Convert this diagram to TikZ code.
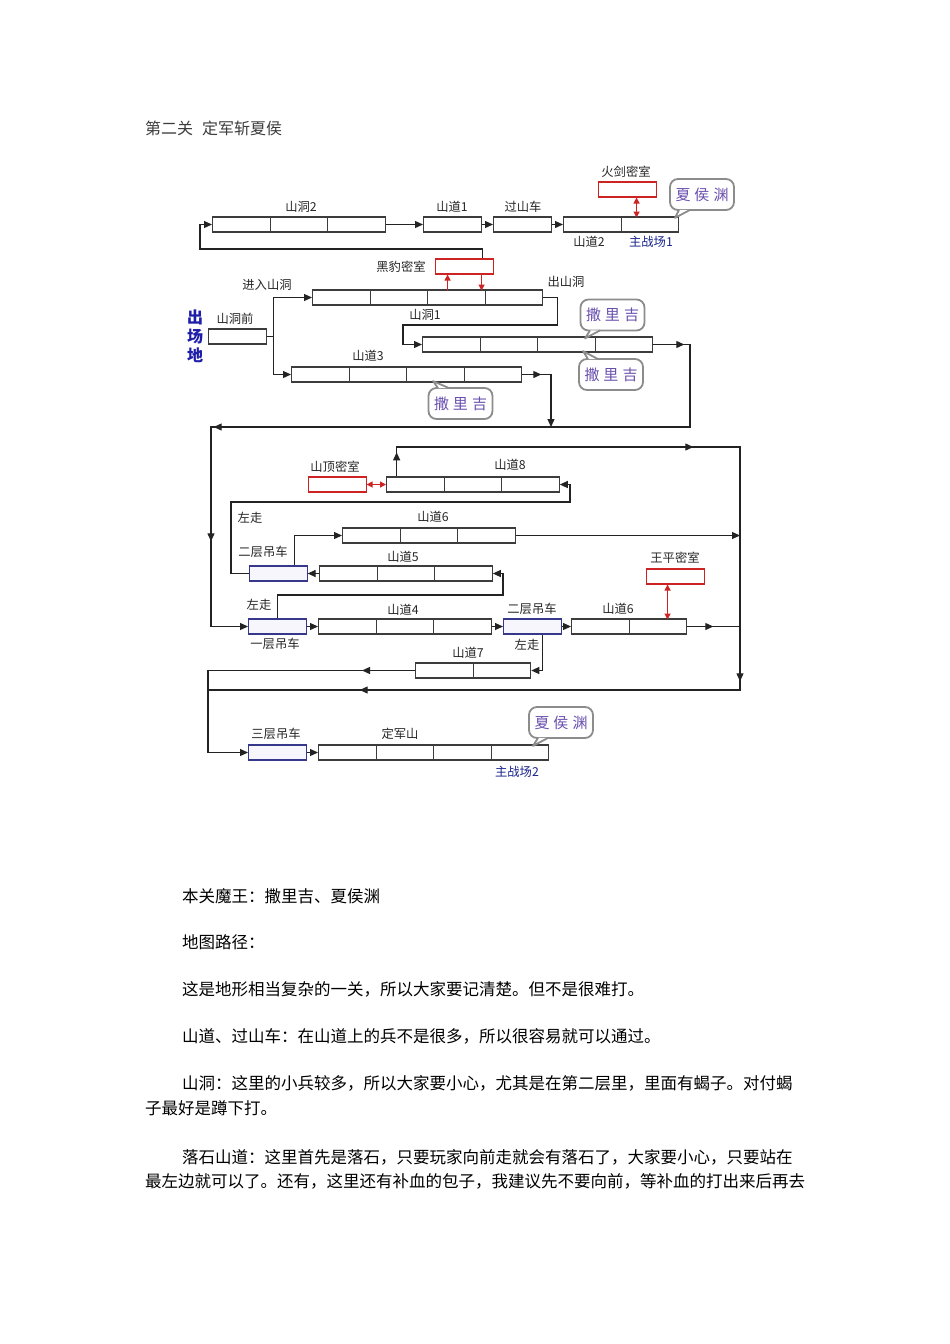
\documentclass[tikz,border=0pt]{standalone}
\usepackage{fontspec}
\setmainfont{Noto Sans CJK SC}
\usetikzlibrary{arrows.meta, positioning, decorations.markings}

\definecolor{cellline}{RGB}{60,60,60}
\definecolor{linkline}{RGB}{35,35,35}
\definecolor{roomred}{RGB}{205,35,35}
\definecolor{liftblue}{RGB}{55,55,140}
\definecolor{liftfill}{RGB}{246,246,252}
\definecolor{bossviolet}{RGB}{105,80,175}
\definecolor{bubgray}{RGB}{140,140,140}
\definecolor{labelnavy}{RGB}{25,35,140}
\definecolor{startblue}{RGB}{30,30,170}
\definecolor{titlegray}{RGB}{60,60,60}

% a row of equal cells, named <name>-1, <name>-2, ...
\newcommand{\track}[4]{%
  \foreach \i in {1,...,#4}
    \node[cell, anchor=west] (#1-\i) at ({#2+(\i-1)*57.5}, #3) {};
}
% tail of a speech bubble: base, tip, base
\newcommand{\bubtail}[3]{%
  \fill[white] #1 -- #2 -- #3 -- cycle;
  \draw[bubline] #1 -- #2 -- #3;
}

\begin{document}
\begin{tikzpicture}[
    x=1pt, y=-1pt,
    cell/.style={draw=cellline, line width=1.3pt, fill=white, minimum width=57.5pt, minimum height=15pt, inner sep=0pt},
    room/.style={cell, draw=roomred, line width=1.1pt},
    lift/.style={cell, draw=liftblue, fill=liftfill, line width=1.1pt},
    tag/.style={font=\fontsize{12.3}{14}\selectfont, text=black!85, inner sep=0pt},
    boss/.style={draw=bubgray, line width=1.8pt, rounded corners=8pt, fill=white, minimum width=64pt, minimum height=31pt, text=bossviolet, font=\fontsize{15}{15}\selectfont},
    bubline/.style={draw=bubgray, line width=1.8pt, line join=round},
    link/.style={draw=linkline, line width=1.2pt},
    arr/.style={link, -{Triangle[length=8pt,width=7pt]}},
    redtip/.style={draw=roomred, line width=1.3pt, -{Triangle[length=6pt,width=6pt]}},
    redboth/.style={draw=roomred, line width=1.3pt, {Triangle[length=6pt,width=6pt]}-{Triangle[length=6pt,width=6pt]}},
    tipat/.style={postaction={decorate, decoration={markings, mark=at position #1 with {\arrow[linkline]{Triangle[length=8pt,width=7pt]}}}}},
    body/.style={font=\fontsize{16.5}{20}\selectfont, anchor=west, inner sep=0pt, text=black}
]
    \fill[white] (0,0) rectangle (950,1344);
    \useasboundingbox (0,0) rectangle (950,1344);

    \node[body, font=\fontsize{16}{18}\selectfont, text=titlegray] (title) at (145,128) {第二关\hspace{0.55em}定军斩夏侯};

    % top row
    \track{sd2}{212}{224.5}{3}
    \node[cell, anchor=west] (sdA) at (423,224.5) {};
    \node[cell, anchor=west] (gsc) at (493,224.5) {};
    \track{sdB}{563}{224.5}{2}
    \node[room, anchor=west] (hj) at (598,189.5) {};
    \node[boss] (xh1) at (702,194.5) {夏\hspace{4pt}侯\hspace{4pt}渊};
    \bubtail{([xshift=-23pt,yshift=1pt]xh1.south)}{([xshift=-27pt,yshift=-7pt]xh1.south)}{([xshift=-12pt,yshift=1pt]xh1.south)}

    \node[tag] (l-sd2) at (301,207) {山洞2};
    \node[tag] (l-sdA) at (452,207) {山道1};
    \node[tag] (l-gsc) at (523,207) {过山车};
    \node[tag] (l-sdB) at (589,242) {山道2};
    \node[tag, text=labelnavy] (l-zz1) at (651,242) {主战场1};
    \node[tag] (l-hj) at (626,172) {火剑密室};

    \draw[arr] (sd2-3.east) -- (sdA.west);
    \draw[arr] (sdA.east) -- (gsc.west);
    \draw[arr] (gsc.east) -- (sdB-1.west);
    \draw[redboth] ([xshift=9.25pt]hj.south) -- ([xshift=9.25pt,yshift=-20pt]hj.south);

    % cave
    \node[room, anchor=west] (hb) at (435,266.5) {};
    \track{jr}{312}{297.5}{4}
    \node[cell, anchor=west] (sdq) at (208,336.5) {};
    \track{sd1}{422}{344.5}{4}
    \track{sd3}{291}{374.5}{4}

    \node[tag] (l-hb) at (401,267) {黑豹密室};
    \node[tag] (l-jr) at (267,285) {进入山洞};
    \node[tag] (l-out) at (566,282) {出山洞};
    \node[tag] (l-sdq) at (235,319) {山洞前};
    \node[tag] (l-sd1) at (425,315) {山洞1};
    \node[tag] (l-sd3) at (368,356) {山道3};
    \node[font=\bfseries\fontsize{16}{19}\selectfont, text=startblue, align=center, inner sep=0pt] (start) at (195,336) {出\\场\\地};

    \draw[arr] ([xshift=18.25pt]hb.north) |- (200,249) |- (sd2-1.west);
    \draw[redtip] ([xshift=-16.75pt,yshift=-16pt]hb.south) -- ([xshift=-16.75pt]hb.south);
    \draw[redtip] ([xshift=17.25pt]hb.south) -- ([xshift=17.25pt,yshift=-16pt]hb.south);
    \draw[arr] (sdq.east) -- ++(6.5,0) |- (jr-1.west);
    \draw[arr] (sdq.east) -- ++(6.5,0) |- (sd3-1.west);
    \draw[arr] (jr-4.east) -- ++(14,0) |- (403,325) |- (sd1-1.west);

    \node[boss] (sl1) at (612.5,315) {撒\hspace{4pt}里\hspace{4pt}吉};
    \bubtail{([xshift=-22.5pt,yshift=1pt]sl1.south)}{([xshift=-27.5pt,yshift=-7pt]sl1.south)}{([xshift=-12.5pt,yshift=1pt]sl1.south)}
    \node[boss] (sl2) at (611,374.5) {撒\hspace{4pt}里\hspace{4pt}吉};
    \bubtail{([xshift=-23pt,yshift=-1pt]sl2.north)}{([xshift=-28pt,yshift=7pt]sl2.north)}{([xshift=-13pt,yshift=-1pt]sl2.north)}
    \node[boss] (sl3) at (460.5,403.5) {撒\hspace{4pt}里\hspace{4pt}吉};
    \bubtail{([xshift=-22.5pt,yshift=-1pt]sl3.north)}{([xshift=-27.5pt,yshift=6pt]sl3.north)}{([xshift=-11.5pt,yshift=-1pt]sl3.north)}

    % mountain road
    \node[room, anchor=west] (sdm) at (308,484.5) {};
    \track{sd8}{386}{484.5}{3}
    \track{sd6u}{342}{535.5}{3}
    \node[lift, anchor=west] (ly2L) at (249,573.5) {};
    \track{sd5}{319}{573.5}{3}
    \node[room, anchor=west] (wp) at (646,576.5) {};
    \node[lift, anchor=west] (ly1) at (248,626.5) {};
    \track{sd4}{318}{626.5}{3}
    \node[lift, anchor=west] (ly2R) at (503,626.5) {};
    \track{sd6l}{571}{626.5}{2}
    \track{sd7}{415}{670.5}{2}

    \node[tag] (l-sdm) at (335,467) {山顶密室};
    \node[tag] (l-sd8) at (510,465) {山道8};
    \node[tag] (l-zz) at (250,518) {左走};
    \node[tag] (l-sd6u) at (433,517) {山道6};
    \node[tag] (l-ly2L) at (263,552) {二层吊车};
    \node[tag] (l-sd5) at (403,557) {山道5};
    \node[tag] (l-wp) at (675,558) {王平密室};
    \node[tag] (l-zz2) at (259,605) {左走};
    \node[tag] (l-sd4) at (403,610) {山道4};
    \node[tag] (l-ly2R) at (532,609) {二层吊车};
    \node[tag] (l-sd6l) at (618,609) {山道6};
    \node[tag] (l-ly1) at (275,644) {一层吊车};
    \node[tag] (l-zz3) at (527,645) {左走};
    \node[tag] (l-sd7) at (468,653) {山道7};

    % Dingjun mountain
    \node[lift, anchor=west] (ly3) at (248,752.5) {};
    \track{djs}{318}{752.5}{4}
    \node[tag] (l-ly3) at (276,734) {三层吊车};
    \node[tag] (l-djs) at (400,734) {定军山};
    \node[tag, text=labelnavy] (l-zz2b) at (517,772) {主战场2};
    \node[boss] (xh2) at (561,722.5) {夏\hspace{4pt}侯\hspace{4pt}渊};
    \bubtail{([xshift=-23pt,yshift=1pt]xh2.south)}{([xshift=-28pt,yshift=-7pt]xh2.south)}{([xshift=-13pt,yshift=1pt]xh2.south)}

    \coordinate (loopr) at (690,427);
    \coordinate (loopl) at (211,427);
    \coordinate (midjoin) at (551,427);
    \coordinate (rtop) at (740,447);
    \coordinate (lbot) at (208,690);

    \draw[arr, tipat=31pt, tipat=595.5pt, tipat=712.5pt] (sd1-4.east) -| (loopr) -- (loopl) |- (ly1.west);
    \draw[arr, tipat=19pt] (sd3-4.east) -| (midjoin);
    \draw[redboth] (sdm.east) -- (sd8-1.west);
    \draw[arr, tipat=24pt, tipat=326pt, tipat=607pt, tipat=996pt] ([xshift=-18.75pt]sd8-1.north) |- (rtop) |- (lbot) |- (ly3.west);
    \draw[arr] (sd6u-3.east) -- (sd6u-3.east -| rtop);
    \draw[arr] ([xshift=16.25pt]ly2L.north) |- (sd6u-1.west);
    \draw[arr] (sd5-1.west) -- (ly2L.east);
    \draw[arr] (ly2L.west) -- ++(-18,0) |- (570,502) |- (sd8-3.east);
    \draw[arr] (ly1.north) |- (503,595) |- (sd5-3.east);
    \draw[arr] (ly1.east) -- (sd4-1.west);
    \draw[arr] (sd4-3.east) -- (ly2R.west);
    \draw[arr] (ly2R.east) -- (sd6l-1.west);
    \draw[redboth] ([xshift=-7.75pt]wp.south) -- ([xshift=-7.75pt,yshift=-35pt]wp.south);
    \draw[link, tipat=26pt] (sd6l-2.east) -- (sd6l-2.east -| rtop);
    \draw[arr] ([xshift=10.25pt]ly2R.south) |- (sd7-2.east);
    \draw[link, tipat=53pt] (sd7-1.west) -| (lbot);
    \draw[arr] (ly3.east) -- (djs-1.west);

    % text below
    \node[body] (t1) at (182,896) {本关魔王：撒里吉、夏侯渊};
    \node[body] (t2) at (182,942) {地图路径：};
    \node[body] (t3) at (182,989) {这是地形相当复杂的一关，所以大家要记清楚。但不是很难打。};
    \node[body] (t4) at (182,1036) {山道、过山车：在山道上的兵不是很多，所以很容易就可以通过。};
    \node[body] (t5) at (182,1083) {山洞：这里的小兵较多，所以大家要小心，尤其是在第二层里，里面有蝎子。对付蝎};
    \node[body] (t6) at (145,1108) {子最好是蹲下打。};
    \node[body] (t7) at (182,1157) {落石山道：这里首先是落石，只要玩家向前走就会有落石了，大家要小心，只要站在};
    \node[body] (t8) at (145,1181) {最左边就可以了。还有，这里还有补血的包子，我建议先不要向前，等补血的打出来后再去};
\end{tikzpicture}
\end{document}
